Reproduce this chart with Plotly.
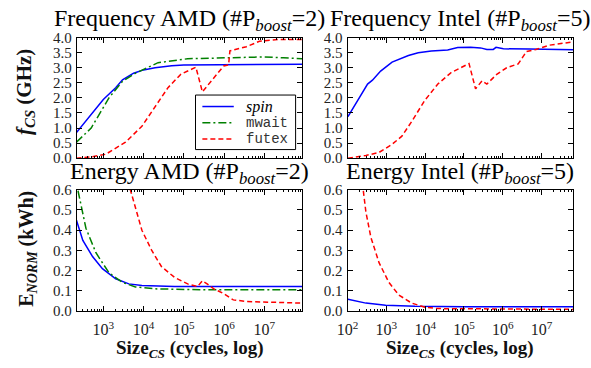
import plotly.graph_objects as go

# ---------------- data ----------------
# Frequency AMD
amd_f_spin_x = [215, 400, 1000, 2030, 3000, 5660, 10000, 19300, 50000, 1e5, 1e6, 1e7, 5e7, 8.7e7]
amd_f_spin_y = [0.85, 1.3, 1.95, 2.34, 2.6, 2.82, 2.93, 3.0, 3.07, 3.09, 3.1, 3.11, 3.1, 3.12]
amd_f_mwait_x = [215, 500, 1380, 3000, 6300, 23000, 1.25e5, 1e6, 1e7, 3e7, 8.7e7]
amd_f_mwait_y = [0.53, 1.0, 2.0, 2.55, 2.82, 3.17, 3.3, 3.34, 3.36, 3.33, 3.3]
amd_f_futex_x = [215, 500, 1150, 3560, 9100, 19300, 40500, 85000, 2.0e5, 2.9e5, 5.6e5, 9.8e5,
                 1.3e6, 1.4e6, 3.6e6, 7.6e6, 2.3e7, 8.7e7]
amd_f_futex_y = [0.0, 0.04, 0.13, 0.53, 1.06, 1.7, 2.34, 2.79, 3.02, 2.2, 2.66, 3.06,
                 3.1, 3.56, 3.7, 3.88, 3.94, 3.94]

# Frequency Intel
int_f_spin_x = [102, 327, 437, 710, 1400, 3700, 6600, 14400, 38000, 69000, 1.48e5, 2.67e5,
                3.9e5, 5.7e5, 6.7e5, 1.04e6, 4.9e6, 6.7e7]
int_f_spin_y = [1.38, 2.46, 2.59, 2.89, 3.19, 3.41, 3.5, 3.56, 3.59, 3.67, 3.68, 3.66,
                3.61, 3.61, 3.68, 3.63, 3.62, 3.6]
int_f_futex_x = [102, 296, 646, 1400, 2510, 4500, 9800, 21200, 46500, 83000, 1.35e5, 1.99e5,
                 2.94e5, 3.9e5, 7.0e5, 1.26e6, 2.5e6, 4.1e6, 7.2e6, 1.58e7, 6.7e7]
int_f_futex_y = [0.0, 0.09, 0.19, 0.46, 0.73, 1.22, 1.92, 2.46, 2.84, 3.0, 3.14, 2.3,
                 2.57, 2.46, 2.78, 3.0, 3.13, 3.54, 3.61, 3.75, 3.86]

# Energy AMD
amd_e_spin_x = [215, 310, 540, 950, 2030, 4300, 9100, 59000, 1e6, 8.7e7]
amd_e_spin_y = [0.45, 0.35, 0.27, 0.21, 0.16, 0.135, 0.127, 0.122, 0.122, 0.122]
amd_e_mwait_x = [235, 370, 650, 1380, 2950, 6300, 23000, 3.8e5, 8.7e7]
amd_e_mwait_y = [0.595, 0.41, 0.29, 0.19, 0.143, 0.12, 0.11, 0.106, 0.106]
amd_e_futex_x = [215, 1380, 2950, 4700, 6300, 9100, 16000, 28000, 59000, 1.25e5, 2.2e5,
                 2.9e5, 3.8e5, 5.6e5, 9.8e5, 1.7e6, 3.6e6, 1.6e7, 8.7e7]
amd_e_futex_y = [3.0, 1.5, 0.9, 0.6, 0.51, 0.40, 0.30, 0.22, 0.167, 0.135, 0.122,
                 0.15, 0.135, 0.11, 0.087, 0.056, 0.048, 0.043, 0.04]

# Energy Intel
int_e_spin_x = [102, 296, 955, 5500, 1e5, 6.7e7]
int_e_spin_y = [0.059, 0.04, 0.029, 0.024, 0.022, 0.022]
int_e_futex_x = [102, 200, 245, 296, 398, 646, 1150, 2090, 4500, 9800, 21200, 1e6, 6.7e7]
int_e_futex_y = [1.5, 0.9, 0.62, 0.49, 0.365, 0.24, 0.143, 0.08, 0.04, 0.02, 0.013, 0.01, 0.009]

titles = ["Frequency AMD (#P<sub><i>boost</i></sub>=2)", "Frequency Intel (#P<sub><i>boost</i></sub>=5)",
          "Energy AMD (#P<sub><i>boost</i></sub>=2)", "Energy Intel (#P<sub><i>boost</i></sub>=5)"]
xtick_vals = [1e2, 1e3, 1e4, 1e5, 1e6, 1e7]
xtick_text = ["10<sup>2</sup>", "10<sup>3</sup>", "10<sup>4</sup>", "10<sup>5</sup>",
              "10<sup>6</sup>", "10<sup>7</sup>"]
minor_vals = [k * 10 ** d for d in range(2, 8) for k in range(2, 10)]
legend_keys = ["spin", "mwait", "futex"]

BLUE, GREEN, RED = "#0000ff", "#008000", "#ff0000"
SERIF = "Liberation Serif"
MONO = "Liberation Mono"
LW = 1.5
DASH = "5px,3px"
DASHDOT = "8px,3px,2px,3px"
STYLES = {"spin": dict(color=BLUE, width=LW),
          "mwait": dict(color=GREEN, width=LW, dash=DASHDOT),
          "futex": dict(color=RED, width=LW, dash=DASH)}

fig = go.Figure()

def add(x, y, xa, ya, kind):
    fig.add_trace(go.Scatter(x=x, y=y, xaxis=xa, yaxis=ya, mode="lines", line=STYLES[kind],
                             name=kind, showlegend=False))

add(amd_f_spin_x, amd_f_spin_y, "x", "y", "spin")
add(amd_f_mwait_x, amd_f_mwait_y, "x", "y", "mwait")
add(amd_f_futex_x, amd_f_futex_y, "x", "y", "futex")
add(int_f_spin_x, int_f_spin_y, "x2", "y2", "spin")
add(int_f_futex_x, int_f_futex_y, "x2", "y2", "futex")
add(amd_e_spin_x, amd_e_spin_y, "x3", "y3", "spin")
add(amd_e_mwait_x, amd_e_mwait_y, "x3", "y3", "mwait")
add(amd_e_futex_x, amd_e_futex_y, "x3", "y3", "futex")
add(int_e_spin_x, int_e_spin_y, "x4", "y4", "spin")
add(int_e_futex_x, int_e_futex_y, "x4", "y4", "futex")

W, H = 591, 368
colL = [67 / W, 297 / W]
colR = [343 / W, 573 / W]
rowT = [1 - 157 / H, 1 - 31 / H]
rowB = [1 - 317 / H, 1 - 190 / H]

common = dict(showline=True, linecolor="black", linewidth=1, mirror="allticks",
              ticks="inside", ticklen=5, tickcolor="black", showgrid=False, zeroline=False)

def xax(domain, rng, labels, anchor):
    return dict(common, domain=domain, anchor=anchor, type="log", range=rng,
                tickmode="array", tickvals=xtick_vals, ticktext=xtick_text,
                showticklabels=labels, ticklabelstandoff=4,
                tickfont=dict(family=SERIF, size=16, color="#222"),
                minor=dict(tickmode="array", tickvals=minor_vals, ticks="inside",
                           ticklen=2.5, tickcolor="black", tickwidth=1, showgrid=False))

def yax(domain, rng, dt, anchor):
    return dict(common, domain=domain, anchor=anchor, range=rng, dtick=dt, tick0=0,
                tickformat=".1f", ticklabelstandoff=1,
                tickfont=dict(family=SERIF, size=15, color="#222"))

fig.update_layout(
    width=W, height=H, margin=dict(l=0, r=0, t=0, b=0),
    paper_bgcolor="white", plot_bgcolor="white",
    xaxis=xax(colL, [2.34, 7.95], False, "y"),
    yaxis=yax(rowT, [0, 4.0], 0.5, "x"),
    xaxis2=xax(colR, [2.0, 7.82], False, "y2"),
    yaxis2=yax(rowT, [0, 4.0], 0.5, "x2"),
    xaxis3=xax(colL, [2.34, 7.95], True, "y3"),
    yaxis3=yax(rowB, [0, 0.6], 0.1, "x3"),
    xaxis4=xax(colR, [2.0, 7.82], True, "y4"),
    yaxis4=yax(rowB, [0, 0.6], 0.1, "x4"),
    showlegend=False,
)

# ---- legend box (inside the top-left panel) ----
px = lambda v: v / W
py = lambda v: 1 - v / H
shapes = [dict(type="rect", xref="paper", yref="paper", x0=px(188), x1=px(290),
               y0=py(148), y1=py(91), line=dict(color="black", width=1),
               fillcolor="white", layer="above")]
ann = []
leg_labels = {"spin": ("<i>spin</i>", SERIF, 16, "black"),
              "mwait": ("mwait", MONO, 14, "#333"),
              "futex": ("futex", MONO, 14, "#333")}
for i, key in enumerate(legend_keys):
    yc = 103 + 17 * i
    shapes.append(dict(type="line", xref="paper", yref="paper", x0=px(195), x1=px(227),
                       y0=py(yc), y1=py(yc), line=STYLES[key], layer="above"))
    txt, fam, sz, col = leg_labels[key]
    ann.append(dict(text=txt, x=px(237), y=py(yc), xref="paper", yref="paper",
                    xanchor="left", yanchor="middle", showarrow=False,
                    font=dict(family=fam, size=sz, color=col)))

centers = [(sum(colL) / 2, py(13)), (sum(colR) / 2, py(13)),
           (sum(colL) / 2, py(173)), (sum(colR) / 2, py(173))]
for t, (cx, cy) in zip(titles, centers):
    ann.append(dict(text=t, x=cx, y=cy, xref="paper", yref="paper", xanchor="center",
                    yanchor="middle", showarrow=False,
                    font=dict(family=SERIF, size=24, color="black")))
ann.append(dict(text="<b><i>f</i><sub><i>CS</i></sub> (GHz)</b>", x=px(14), y=py(88),
                xref="paper", yref="paper", textangle=-90, showarrow=False,
                xanchor="center", yanchor="middle",
                font=dict(family=SERIF, size=21, color="#111")))
ann.append(dict(text="<b>E<sub><i>NORM</i></sub> (kWh)</b>", x=px(16), y=py(252),
                xref="paper", yref="paper", textangle=-90, showarrow=False,
                xanchor="center", yanchor="middle",
                font=dict(family=SERIF, size=20, color="#111")))
for cx in (sum(colL) / 2, sum(colR) / 2):
    ann.append(dict(text="<b>Size<sub><i>CS</i></sub> (cycles, log)</b>", x=cx, y=py(356),
                    xref="paper", yref="paper", showarrow=False,
                    xanchor="center", yanchor="middle",
                    font=dict(family=SERIF, size=19, color="#111")))
fig.update_layout(annotations=ann, shapes=shapes)

fig.write_html("out.html")
